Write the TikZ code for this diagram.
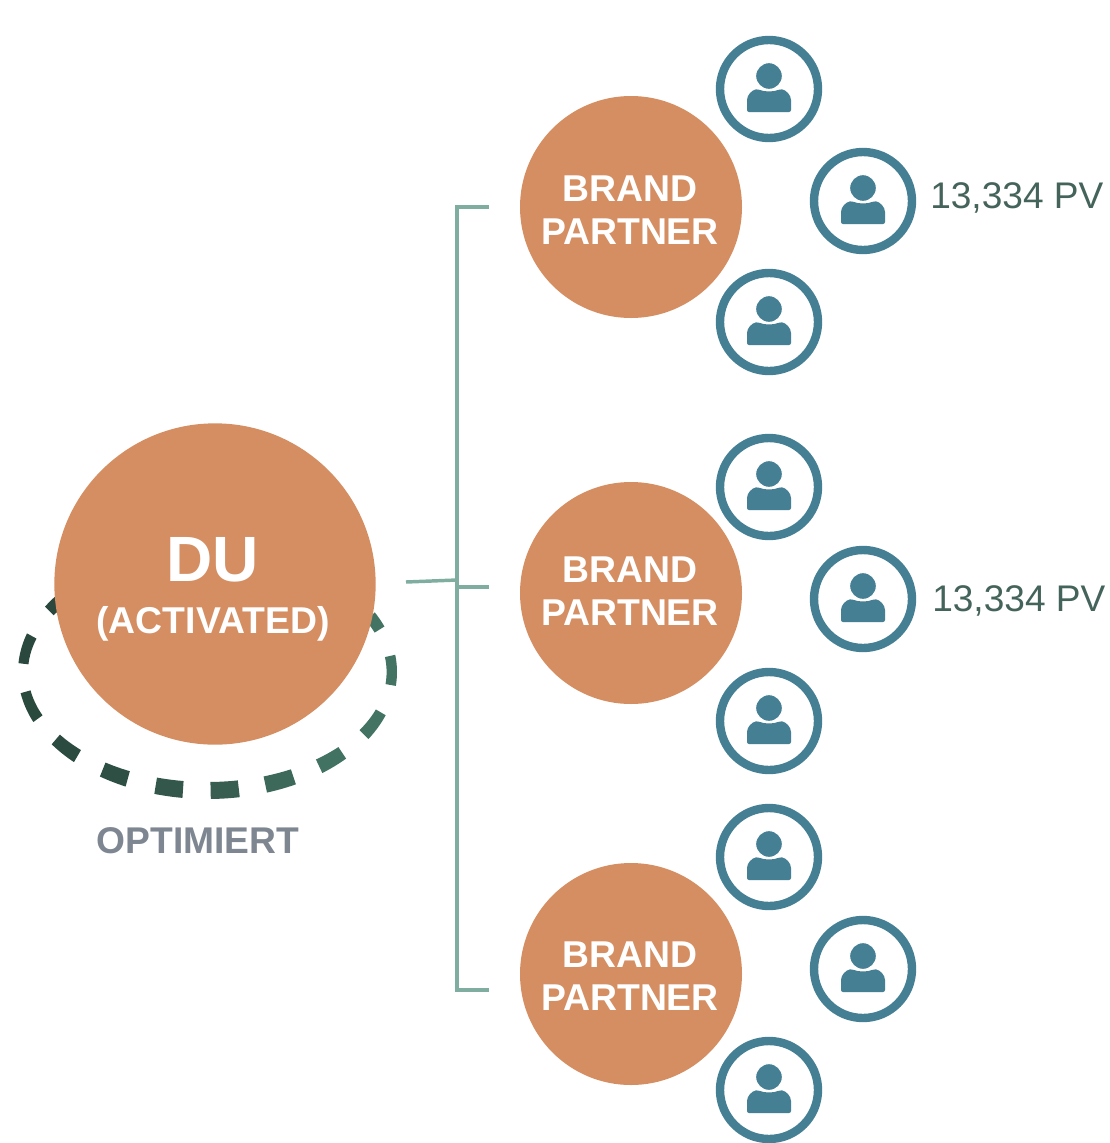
\documentclass[tikz,border=0pt]{standalone}
\usepackage{fontspec}
\setmainfont{Liberation Sans}
\definecolor{orangeC}{HTML}{D58E62}
\definecolor{tealC}{HTML}{457F94}
\definecolor{lineC}{HTML}{7FADA0}
\definecolor{dashA}{HTML}{2A483D}
\definecolor{dashB}{HTML}{437463}
\definecolor{greyC}{HTML}{7E8791}
\definecolor{pvC}{HTML}{44635A}
\tikzset{
  x=0.75pt,y=-0.75pt,
  bigdisc/.style={circle,fill=orangeC,inner sep=0pt,outer sep=0pt,minimum size=241pt},
  branddisc/.style={circle,fill=orangeC,inner sep=0pt,outer sep=0pt,minimum size=166.5pt},
  ring/.style={circle,draw=tealC,line width=6.3pt,fill=white,inner sep=0pt,outer sep=0pt,minimum size=73.5pt},
  whitetext/.style={anchor=base,text=white,font=\fontsize{28pt}{30pt}\selectfont\bfseries,inner sep=0pt},
  dutext/.style={anchor=base,text=white,font=\fontsize{48pt}{52pt}\selectfont\bfseries,inner sep=0pt},
  opttext/.style={anchor=base,text=greyC,font=\fontsize{27.9pt}{30pt}\selectfont\bfseries,inner sep=0pt},
  pvtext/.style={anchor=base west,text=pvC,font=\fontsize{27.8pt}{30pt}\selectfont,inner sep=0pt},
  bracket/.style={draw=lineC,line width=2.6pt,line join=miter},
  person/.pic={
    \fill[tealC,rounded corners=1.5pt] (-22,23) -- (-22,13) .. controls (-22,6) and (-17,1) .. (-11,0)
      .. controls (-5,3) and (5,3) .. (11,0) .. controls (17,1) and (22,6) .. (22,13) -- (22,23) -- cycle;
    \fill[tealC,draw=white,line width=0.8pt] (0,-13) circle[radius=13.4];
  }
}
\begin{document}
\begin{tikzpicture}
\useasboundingbox (0,0) rectangle (1110,1143);
% dashed crescent
\foreach \a/\b/\m in {225/211/0,197.7/184/0,170.4/156.8/4,145.3/134.8/8,124.6/115.6/18,106.3/97.6/35,89/80.2/50,71.7/62.2/75,52.7/43/95,31.9/19.9/100,6.3/-7.8/100,-21/-28/100}{
  \fill[dashB!\m!dashA]
    plot[domain=\a:\b,samples=10] ({207.5+189.5*cos(\x)},{672+127*sin(\x)}) --
    plot[domain=\b:\a,samples=10] ({207.3+179.3*cos(\x)},{672+110*sin(\x)}) -- cycle;
}
% main nodes
\node[bigdisc] (du) at (215,584) {};
\node[branddisc] (b1) at (631,207) {};
\node[branddisc] (b2) at (631,593) {};
\node[branddisc] (b3) at (631,974) {};
\node[dutext] (dulabel) at (213,581) {DU};
\node[whitetext] (actlabel) at (213,633) {(ACTIVATED)};
\foreach \n/\ya/\yb in {1/201/244,2/582/625,3/967/1010}{
  \node[whitetext] (brand\n) at (630,\ya) {BRAND};
  \node[whitetext] (partner\n) at (630,\yb) {PARTNER};
}
\node[opttext] (optlabel) at (198,853) {OPTIMIERT};
% person icons
\foreach \n/\px/\py in {1/769/89,2/863/201,3/769/322,4/769/487,5/863/599,6/769/721,7/769/857,8/863/969,9/769/1090}{
  \node[ring] (p\n) at (\px,\py) {};
  \pic at (p\n.center) {person};
}
\node[pvtext] (pv1) at (930,208) {13,334 PV};
\node[pvtext] (pv2) at (932,611) {13,334 PV};
% bracket
\coordinate (stemL) at (406,582);
\coordinate (stemR) at (457,580);
\coordinate (top) at (489,207);
\coordinate (topC) at (457,207);
\coordinate (bot) at (489,990);
\coordinate (botC) at (457,990);
\coordinate (mid) at (489,587);
\coordinate (midC) at (457,587);
\draw[bracket] (top) -- (topC) -- (botC) -- (bot);
\draw[bracket] (midC) -- (mid);
\draw[bracket] (stemL) -- (stemR);
\end{tikzpicture}
\end{document}
